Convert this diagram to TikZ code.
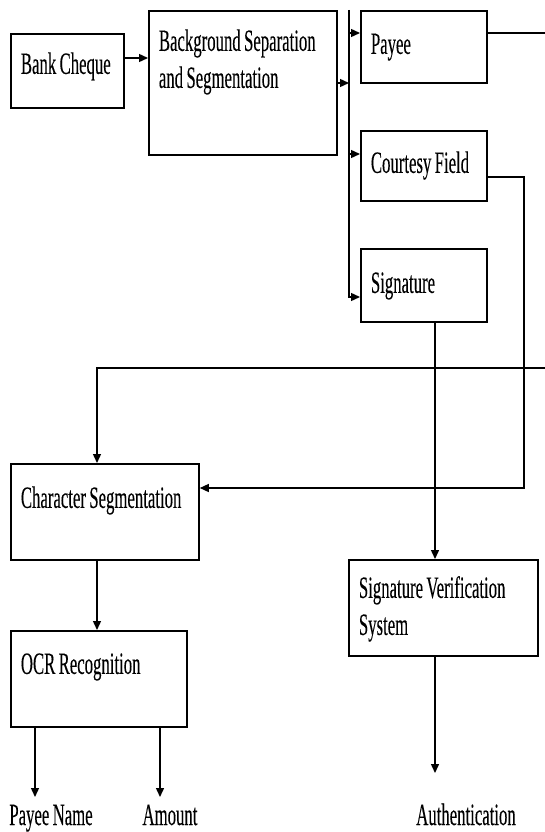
\documentclass[tikz,border=0pt]{standalone}
\usepackage{fontspec}
\setmainfont{Liberation Serif}[FakeStretch=0.54, WordSpace=0.8, FakeBold=0.2]
\usetikzlibrary{arrows.meta}

\newcommand\blockfont{\fontsize{31pt}{37pt}\selectfont}

\tikzset{
  block/.style={draw, line width=1.8pt, anchor=north west, inner xsep=10pt, inner ysep=0pt, align=flush left, font=\blockfont},
  outlabel/.style={anchor=base, inner sep=0pt, font=\blockfont},
  arr/.style={line width=1.4pt, -{Triangle[length=9pt,width=8pt]}}
}

\begin{document}
\begin{tikzpicture}
\useasboundingbox (0pt,0pt) rectangle (544pt,-832pt);
\node (cheque) [block, text width=93pt, text height=40pt, text depth=34pt] at (10pt,-33pt) {Bank Cheque};
\node (bss) [block, text width=168pt, text height=40pt, text depth=104pt] at (148pt,-10pt) {Background Separation\\and Segmentation};
\node (payee) [block, text width=106pt, text height=43pt, text depth=29pt] at (360pt,-10pt) {Payee};
\node (courtesy) [block, text width=106pt, text height=42pt, text depth=28pt] at (360pt,-130pt) {Courtesy Field};
\node (signature) [block, text width=106pt, text height=44pt, text depth=29pt] at (360pt,-248pt) {Signature};
\node (charseg) [block, text width=168pt, text height=44pt, text depth=52pt] at (10pt,-463pt) {Character Segmentation};
\node (ocr) [block, text width=156pt, text height=43pt, text depth=53pt] at (10pt,-630pt) {OCR Recognition};
\node (sigver) [block, text width=169pt, text height=38pt, text depth=58pt] at (348pt,-559pt) {Signature Verification\\System};
\node (payeename) [outlabel] at (51pt,-825pt) {Payee Name};
\node (amount) [outlabel] at (170pt,-825pt) {Amount};
\node (auth) [outlabel] at (466pt,-825pt) {Authentication};

% bus and branch points
\coordinate (a1) at (123pt,-58pt);
\coordinate (bustop) at (349pt,-10pt);
\coordinate (busin) at (349pt,-83pt);
\coordinate (b1) at (349pt,-33pt);
\coordinate (b2) at (349pt,-154pt);
\coordinate (b3) at (349pt,-297pt);
\coordinate (p1) at (552pt,-33pt);
\coordinate (p2) at (552pt,-368pt);
\coordinate (p3) at (97pt,-368pt);
\coordinate (c1) at (524pt,-177pt);
\coordinate (c2) at (524pt,-488pt);
\coordinate (s1) at (435pt,-773pt);
\coordinate (o1) at (35pt,-797pt);
\coordinate (o2) at (160pt,-797pt);

\draw [arr] (a1) -- (a1 -| bss.west);
\draw [arr] (busin -| bss.east) -- (busin);
\draw [arr] (bustop) -- (b3) -- (b3 -| signature.west);
\draw [arr] (b1) -- (b1 -| payee.west);
\draw [arr] (b2) -- (b2 -| courtesy.west);
\draw [arr] (b1 -| payee.east) -- (p1) -- (p2) -- (p3) -- (p3 |- charseg.north);
\draw [arr] (c1 -| courtesy.east) -- (c1) -- (c2) -- (c2 -| charseg.east);
\draw [arr] (s1 |- signature.south) -- (s1 |- sigver.north);
\draw [arr] (p3 |- charseg.south) -- (p3 |- ocr.north);
\draw [arr] (o1 |- ocr.south) -- (o1);
\draw [arr] (o2 |- ocr.south) -- (o2);
\draw [arr] (s1 |- sigver.south) -- (s1);
\end{tikzpicture}
\end{document}
